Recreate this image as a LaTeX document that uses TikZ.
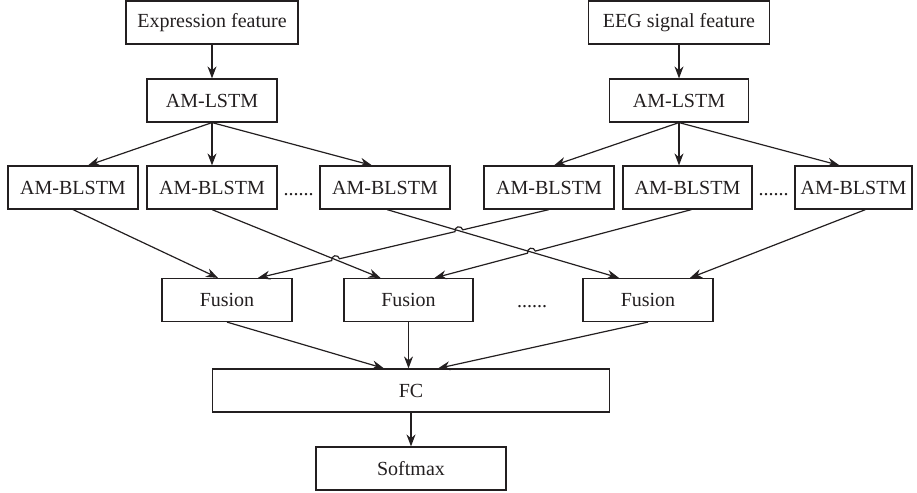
\documentclass[tikz,border=0pt]{standalone}
\usepackage{fontspec}
\setmainfont{Liberation Serif}
\usepackage{tikz}
\usetikzlibrary{arrows.meta,calc,intersections}

\definecolor{ink}{RGB}{35,31,32}
\tikzset{
  box/.style={draw=ink, line width=1.2pt, minimum height=43pt, inner sep=0pt,
    text=ink, font=\fontsize{20}{24}\selectfont},
  dots/.style={text=ink, inner sep=0pt, font=\fontsize{20}{24}\selectfont},
  >={Stealth[length=12pt,width=9pt]}
}

\begin{document}
\begin{tikzpicture}[x=1pt,y=1pt,line width=1.2pt,draw=ink]
  \useasboundingbox (0,0) rectangle (917,492);

\node[box,minimum width=172pt] (expr) at (212,469.5) {Expression feature};
\node[box,minimum width=181pt] (eeg) at (679,469.5) {EEG signal feature};
\node[box,minimum width=130pt] (lstmA) at (212,391.5) {AM-LSTM};
\node[box,minimum width=139pt] (lstmB) at (679,391.5) {AM-LSTM};

\node[box,minimum width=130pt] (ba1) at (73,304.5) {AM-BLSTM};
\node[box,minimum width=130pt] (ba2) at (212,304.5) {AM-BLSTM};
\node[box,minimum width=130pt] (ba3) at (385,304.5) {AM-BLSTM};
\node[box,minimum width=130pt] (bb1) at (549,304.5) {AM-BLSTM};
\node[box,minimum width=129pt] (bb2) at (687.5,304.5) {AM-BLSTM};
\node[box,minimum width=117pt] (bb3) at (853.5,304.5) {AM-BLSTM};
\node[dots] (dA) at (298.5,297) {......};
\node[dots] (dB) at (773.5,297) {......};

\node[box,minimum width=130pt] (fu1) at (227,192) {Fusion};
\node[box,minimum width=129pt] (fu2) at (408.5,192) {Fusion};
\node[box,minimum width=130pt] (fu3) at (648,192) {Fusion};
\node[dots] (dC) at (532,185) {......};

\node[box,minimum width=397pt] (fc) at (411,101.5) {FC};
\node[box,minimum width=190pt] (soft) at (411,23.5) {Softmax};

\draw[->] (expr.south) -- (lstmA.north);
\draw[->] (eeg.south) -- (lstmB.north);

\draw[->] (lstmA.south) -- ([xshift=15pt]ba1.north);
\draw[->] (lstmA.south) -- (ba2.north);
\draw[->] (lstmA.south) -- ([xshift=-13pt]ba3.north);
\draw[->] (lstmB.south) -- ([xshift=5pt]bb1.north);
\draw[->] (lstmB.south) -- (lstmB.south |- bb2.north);
\draw[->] (lstmB.south) -- ([xshift=-14pt]bb3.north);

% expression branch to fusion
\draw[->] (ba1.south) -- ([xshift=-9pt]fu1.north);
\draw[->,name path=ln2] (ba2.south) -- ([xshift=-28pt]fu2.north);
\draw[->,name path=ln3] ([xshift=2pt]ba3.south) -- ([xshift=-29pt]fu3.north);

% eeg branch to fusion, hopping over the crossings
\coordinate (q1s) at (bb1.south);
\coordinate (q1e) at ([xshift=31pt]fu1.north);
\coordinate (q2s) at ([xshift=4pt]bb2.south);
\coordinate (q2e) at ([xshift=26pt]fu2.north);
\path[name path=lq1] (q1s) -- (q1e);
\path[name path=lq2] (q2s) -- (q2e);
\path[name intersections={of=lq1 and ln3, by=h1}];
\path[name intersections={of=lq1 and ln2, by=h2}];
\path[name intersections={of=lq2 and ln3, by=h3}];

\draw[->] let \p1=($(q1s)-(q1e)$), \n1={atan2(\y1,\x1)}, \n2={\n1+180} in
  (q1s) -- ($(h1)!4pt!(q1s)$) arc[start angle=\n1, end angle=\n2, radius=4pt]
  -- ($(h2)!4pt!(q1s)$) arc[start angle=\n1, end angle=\n2, radius=4pt]
  -- (q1e);
\draw[->] let \p1=($(q2s)-(q2e)$), \n1={atan2(\y1,\x1)}, \n2={\n1+180} in
  (q2s) -- ($(h3)!4pt!(q2s)$) arc[start angle=\n1, end angle=\n2, radius=4pt]
  -- (q2e);
\draw[->] ([xshift=12pt]bb3.south) -- ([xshift=42pt]fu3.north);

\draw[->] (fu1.south) -- ([xshift=-27pt]fc.north);
\draw[->] (fu2.south) -- (fu2.south |- fc.north);
\draw[->] (fu3.south) -- ([xshift=27pt]fc.north);
\draw[->] (fc.south) -- (soft.north);
\end{tikzpicture}
\end{document}
